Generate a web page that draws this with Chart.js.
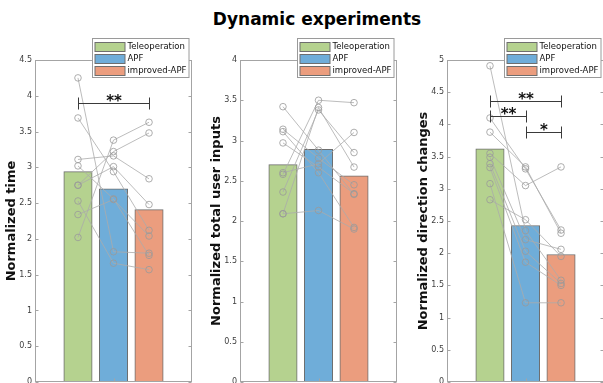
<!DOCTYPE html>
<html>
<head>
<meta charset="utf-8">
<script src="https://cdn.jsdelivr.net/npm/chart.js@4/dist/chart.umd.min.js"></script>
<style>
  html, body { margin: 0; padding: 0; background: #fff; overflow: hidden; width: 603px; height: 383px; }
  #title { position: absolute; left: 0; top: 11px; width: 634px; text-align: center;
           font: bold 17px "DejaVu Sans"; line-height: 17px; color: #000; }
  .panel { position: absolute; top: 0; width: 200px; height: 420px; }
</style>
</head>
<body>
<div id="title">Dynamic experiments</div>
<div class="panel" style="left:0px"><canvas id="cTime" width="200" height="420"></canvas></div>
<div class="panel" style="left:205px"><canvas id="cInputs" width="200" height="420"></canvas></div>
<div class="panel" style="left:412px"><canvas id="cDir" width="200" height="420"></canvas></div>
<script>
// Conditions shown in every panel
const groups = ['Teleoperation', 'APF', 'improved-APF'];

// Normalized completion time, one entry per participant
const timeTele = [4.25, 3.69, 3.11, 3.02, 2.75, 2.75, 2.53, 2.34, 2.02];
const timeApf  = [1.82, 2.94, 3.16, 2.56, 3.22, 3.01, 1.66, 2.55, 3.38];
const timeImp  = [1.80, 2.12, 2.84, 1.77, 3.48, 2.48, 1.57, 2.04, 3.63];
const timeMeans = [2.94, 2.70, 2.41];

// Normalized total user inputs
const inputsTele = [2.09, 2.09, 2.36, 2.58, 2.60, 2.97, 3.11, 3.14, 3.42];
const inputsApf  = [2.13, 3.41, 3.38, 3.50, 2.71, 2.67, 2.60, 2.78, 2.88];
const inputsImp  = [1.90, 2.67, 2.85, 3.47, 3.10, 2.34, 1.92, 2.45, 2.33];
const inputsMeans = [2.70, 2.89, 2.56];

// Normalized direction changes
const dirTele = [4.91, 4.10, 3.88, 3.55, 3.49, 3.39, 3.33, 3.08, 2.83];
const dirApf  = [2.35, 3.31, 3.34, 3.05, 2.21, 2.03, 1.86, 1.23, 2.52];
const dirImp  = [1.58, 2.36, 2.31, 3.34, 2.06, 1.53, 1.50, 1.23, 1.95];
const dirMeans = [3.62, 2.43, 1.98];

// Significance markers: [from group, to group, bracket level, stars]
const timeSig = [[1, 3, 3.9, '**']];
const inputsSig = [];
const dirSig = [[1, 3, 4.36, '**'], [1, 2, 4.13, '**'], [2, 3, 3.88, '*']];

// Styling
const FONT = 'DejaVu Sans';
const fillColors = ['#b5d28f', '#6fadd9', '#eb9d7e'];
const edgeColor = '#6e6e6e';
const frameColor = '#a4a4a4';

const framePlugin = {
  id: 'frame',
  afterDatasetsDraw(chart, args, opts) {
    const ctx = chart.ctx;
    const x = chart.scales.x, y = chart.scales.y;
    ctx.save();
    ctx.strokeStyle = '#3a3a3a';
    ctx.fillStyle = '#111';
    ctx.lineWidth = 1;
    (opts.sig || []).forEach(([a, b, lvl, stars]) => {
      const x1 = Math.round(x.getPixelForValue(a)) + 0.5;
      const x2 = Math.round(x.getPixelForValue(b)) + 0.5;
      const yy = Math.round(y.getPixelForValue(lvl)) + 0.5;
      ctx.beginPath();
      ctx.moveTo(x1, yy); ctx.lineTo(x2, yy);
      ctx.moveTo(x1, yy - 6); ctx.lineTo(x1, yy + 6);
      ctx.moveTo(x2, yy - 6); ctx.lineTo(x2, yy + 6);
      ctx.stroke();
      ctx.font = 'bold 15px "' + FONT + '"';
      ctx.textAlign = 'center';
      ctx.textBaseline = 'alphabetic';
      ctx.fillText(stars, (x1 + x2) / 2, yy + 2.8);
    });
    ctx.restore();
  },
  afterDraw(chart) {
    const ctx = chart.ctx;
    const a = chart.chartArea;
    const x = chart.scales.x, y = chart.scales.y;
    ctx.save();
    ctx.strokeStyle = frameColor;
    ctx.lineWidth = 1;
    const L = Math.round(a.left) + 0.5, R = Math.round(a.right) - 0.5;
    const T = Math.round(a.top) + 0.5, B = Math.round(a.bottom) - 0.5;
    ctx.strokeRect(L, T, R - L, B - T);
    ctx.beginPath();
    y.ticks.forEach(t => {
      const py = Math.round(y.getPixelForValue(t.value)) + 0.5;
      ctx.moveTo(L, py); ctx.lineTo(L + 3, py);
      ctx.moveTo(R, py); ctx.lineTo(R - 3, py);
    });
    const cx = Math.round(x.getPixelForValue(2)) + 0.5;
    ctx.moveTo(cx, B); ctx.lineTo(cx, B - 3);
    ctx.stroke();

    // legend box
    const lx = Math.round(a.left + 56.7) + 0.5;
    const ly = Math.round(a.top - 21.7) + 0.5;
    const lw = 96.5, lh = 39;
    ctx.fillStyle = '#fff';
    ctx.fillRect(lx, ly, lw, lh);
    ctx.strokeStyle = '#9a9a9a';
    ctx.strokeRect(lx, ly, lw, lh);
    const bars = chart.data.datasets.filter(d => d.type === 'bar');
    bars.forEach((d, i) => {
      const cy = ly + 7.6 + i * 12.3;
      ctx.fillStyle = d.backgroundColor;
      ctx.fillRect(lx + 2.5, Math.round(cy - 4.5), 30, 9);
      ctx.strokeStyle = edgeColor;
      ctx.strokeRect(lx + 2.5, Math.round(cy - 4.5) + 0.5, 30, 9);
      ctx.fillStyle = '#111';
      ctx.font = '8.5px "' + FONT + '"';
      ctx.textAlign = 'left';
      ctx.textBaseline = 'middle';
      ctx.fillText(d.label, lx + 35, cy + 0.5);
    });
    ctx.restore();
  }
};

function makePanel(id, yTitle, yMax, tele, apf, imp, means, sig) {
  const lines = tele.map((t, i) => ({
    type: 'line',
    label: 'participant ' + (i + 1),
    data: [{ x: 1, y: t }, { x: 2, y: apf[i] }, { x: 3, y: imp[i] }],
    borderColor: '#ababab',
    borderWidth: 0.8,
    pointRadius: 3.3,
    pointBackgroundColor: 'rgba(0,0,0,0)',
    pointBorderColor: '#999',
    pointBorderWidth: 0.8,
    fill: false,
    tension: 0,
    order: 1
  }));
  const bars = groups.map((g, k) => ({
    type: 'bar',
    label: g,
    data: [{ x: k + 1, y: means[k] }],
    backgroundColor: fillColors[k],
    borderColor: edgeColor,
    borderWidth: 1,
    barThickness: 28.4,
    grouped: false,
    order: 2
  }));
  new Chart(document.getElementById(id), {
    type: 'bar',
    data: { datasets: [...bars, ...lines] },
    plugins: [framePlugin],
    options: {
      responsive: false,
      animation: false,
      events: [],
      layout: { padding: { top: 60, right: 8, left: 0, bottom: 0 } },
      plugins: {
        legend: { display: false },
        tooltip: { enabled: false },
        frame: { sig }
      },
      scales: {
        x: {
          type: 'linear', min: -0.21, max: 4.21, offset: false,
          ticks: { display: false },
          grid: { display: false, drawTicks: false, offset: false },
          border: { display: false },
          afterFit(s) { s.height = 38; }
        },
        y: {
          type: 'linear', min: 0, max: yMax,
          ticks: {
            stepSize: 0.5,
            padding: 3,
            color: '#404040',
            font: { family: FONT, size: 8 },
            callback: v => String(+v.toFixed(2))
          },
          grid: { display: false, drawTicks: false },
          border: { display: false },
          title: {
            display: true, text: yTitle, color: '#111',
            font: { family: FONT, size: 13, weight: 'bold' },
            padding: { top: 4, bottom: 0 }
          },
          afterFit(s) { s.width = 35; }
        }
      }
    }
  });
}

makePanel('cTime', 'Normalized time', 4.5, timeTele, timeApf, timeImp, timeMeans, timeSig);
makePanel('cInputs', 'Normalized total user inputs', 4, inputsTele, inputsApf, inputsImp, inputsMeans, inputsSig);
makePanel('cDir', 'Normalized direction changes', 5, dirTele, dirApf, dirImp, dirMeans, dirSig);
</script>
</body>
</html>
